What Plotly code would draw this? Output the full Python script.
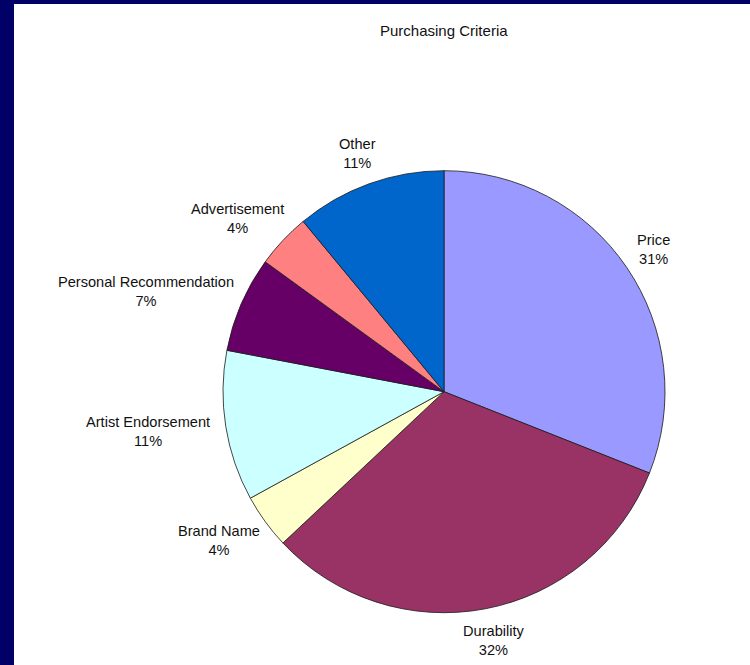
import math
import plotly.graph_objects as go

# Survey results: what matters most when buying
categories = ["Price", "Durability", "Brand Name", "Artist Endorsement",
              "Personal Recommendation", "Advertisement", "Other"]
shares = [31, 32, 4, 11, 7, 4, 11]
slice_colors = ["#9999FF", "#993366", "#FFFFCC", "#CCFFFF",
                "#660066", "#FF8080", "#0066CC"]
chart_title = "Purchasing Criteria"

# Page geometry (pixels)
W, H = 750, 665
ML, MT = 14, 4                      # navy frame on the left and top
PW, PH = W - ML, H - MT             # white chart area
CX, CY, R = 444.0, 391.7, 221.0     # pie centre and radius
FONT = "Liberation Sans, Arial, sans-serif"
LABEL_SIZE = 14.6

# Approximate Arial advance widths (1/1000 em) used to size label boxes
_NARROW = set("iljtfrI ")
_WIDE = set("mwMW")


def text_width(s, size):
    total = 0
    for ch in s:
        if ch in "ilj":
            total += 222
        elif ch in "tf I":
            total += 278
        elif ch == "r":
            total += 333
        elif ch in "mM":
            total += 833
        elif ch in "wW":
            total += 722 if ch == "w" else 944
        elif ch.isupper():
            total += 690
        elif ch in "csxyz kv":
            total += 500
        else:
            total += 556
    return total / 1000 * size


def px_to_paper(x, y):
    return (x - ML) / PW, 1 - (y - MT) / PH


fig = go.Figure()

x0, y_top = px_to_paper(CX - R, CY - R)
x1, y_bot = px_to_paper(CX + R, CY + R)
fig.add_trace(go.Pie(
    labels=categories,
    values=shares,
    sort=False,
    direction="clockwise",
    rotation=0,
    marker=dict(colors=slice_colors, line=dict(color="#1a1a1a", width=0.8)),
    textinfo="none",
    hovertemplate="%{label}: %{percent}<extra></extra>",
    showlegend=False,
    domain=dict(x=[x0, x1], y=[y_bot, y_top]),
))

# Category labels placed just outside the rim at each slice's mid-angle
total = sum(shares)
annotations = []
cum = 0.0
for name, v in zip(categories, shares):
    mid = (cum + v / 2) / total * 2 * math.pi
    cum += v
    ux, uy = math.sin(mid), -math.cos(mid)
    ax, ay = CX + ux * (R + 16), CY + uy * (R + 16)
    w = text_width(name, LABEL_SIZE)
    h = 32
    bx, by = ax + ux * w / 2, ay + uy * h / 2
    px_, py_ = px_to_paper(bx, by)
    pct = round(v / total * 100)
    annotations.append(dict(
        x=px_, y=py_, xref="paper", yref="paper",
        text=f"{name}<br>{pct}%", showarrow=False,
        xanchor="center", yanchor="middle", align="center",
        font=dict(family=FONT, size=LABEL_SIZE, color="#111111"),
    ))

tx, ty = px_to_paper(CX, 31)
annotations.append(dict(
    x=tx, y=ty, xref="paper", yref="paper", text=chart_title,
    showarrow=False, xanchor="center", yanchor="middle",
    font=dict(family=FONT, size=15, color="#111111"),
))

fig.update_layout(
    width=W, height=H,
    margin=dict(l=ML, r=0, t=MT, b=0),
    paper_bgcolor="#000066",
    annotations=annotations,
    shapes=[dict(type="rect", xref="paper", yref="paper",
                 x0=0, y0=0, x1=1, y1=1, layer="below",
                 fillcolor="white", line=dict(width=0))],
)

fig.write_html("out.html")
